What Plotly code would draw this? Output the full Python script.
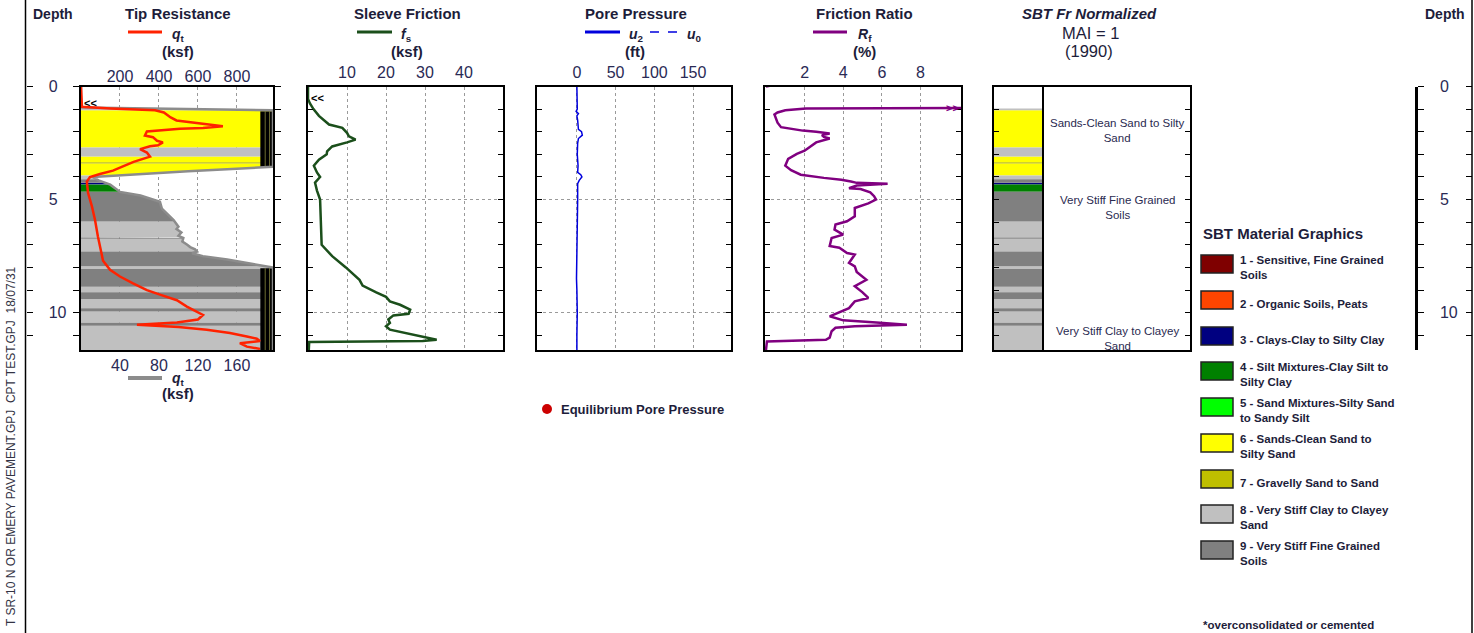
import numpy as np
import plotly.graph_objects as go

W, H = 1474, 633
FONT = "Liberation Sans, Arial, Helvetica, sans-serif"
TXT = "#1d1d3a"
TICKC = "#2a2a55"

DEPTH_TICKS = [0, 5, 10]
DMAX = 11.65

# Tip resistance qt (top scale, ksf)
QT_DEPTH = [0, 0.9, 0.97, 1.05, 1.15, 1.37, 1.5, 1.65, 1.76, 1.83, 1.87, 1.99, 2.17, 2.24, 2.4, 2.47,
            2.6, 2.64, 2.77, 2.92, 3.1, 3.2, 3.33, 3.53, 3.72, 3.87, 4.0, 4.2, 4.7, 5.3, 5.9, 6.64,
            7.37, 7.7, 8.1, 8.4, 8.7, 9.0, 9.2, 9.45, 9.73, 9.95, 10.1, 10.3, 10.43, 10.53, 10.57,
            10.63, 10.75, 10.9, 11.05, 11.15, 11.25, 11.35, 11.5, 11.6]
QT = [0, 5, 150, 380, 425, 460, 490, 645, 728, 626, 508, 338, 328, 369, 390, 420,
      395, 354, 303, 338, 354, 318, 270, 215, 164, 97, 46, 30, 36, 56, 72, 87,
      107, 113, 149, 200, 267, 338, 405, 492, 543, 595, 626, 600, 492, 287, 390,
      500, 645, 764, 851, 902, 918, 815, 851, 918]

# Tip resistance qt (bottom, expanded scale, ksf) - drives the SBT fill
QTG_DEPTH = [0, 0.93, 1.05, 3.55, 3.75, 3.9, 4.0, 4.15, 4.34, 4.5, 4.66, 4.82, 4.96, 5.1, 5.4,
             5.6, 5.9, 6.2, 6.3, 6.45, 6.6, 6.7, 6.85, 7.0, 7.1, 7.2, 7.3, 7.37, 7.5, 7.65, 7.85,
             8.0, 11.65]
QTG = [0, 0, 200, 200, 110, 45, 12, 18, 30, 35, 40, 61, 71, 81, 83,
       88, 95, 100, 98, 103, 100, 105, 104, 109, 112, 117, 119, 114, 125, 150, 177,
       200, 200]

# Sleeve friction fs (ksf)
FS_DEPTH = [0, 0.55, 0.75, 1.0, 1.3, 1.68, 1.83, 2.05, 2.2, 2.35, 2.47, 2.65, 2.87, 3.0, 3.24,
            3.5, 3.8, 4.0, 4.25, 4.6, 5.0, 5.5, 5.9, 6.5, 6.8, 7.0, 7.5, 8.0, 8.55, 8.8, 9.1,
            9.3, 9.5, 9.65, 9.87, 10.05, 10.12, 10.3, 10.45, 10.6, 10.75, 10.9, 11.05, 11.2,
            11.25, 11.3, 11.65]
FS = [0, 0, 0.5, 1.4, 2.8, 5.4, 8.8, 10.0, 10.5, 12.2, 10.0, 6.2, 4.9, 4.8, 2.8,
      1.5, 2.3, 3.1, 1.8, 2.3, 3.1, 3.2, 3.3, 3.3, 3.3, 3.5, 6.2, 9.7, 13.2, 14.0, 17.5,
      20.0, 21.0, 23.6, 26.2, 25.8, 21.9, 20.6, 21.0, 20.0, 21.0, 25.0, 29.4, 33.0,
      29.4, 0.3, 0.2]

# Pore pressure u2 (ft)
U2_DEPTH = [0, 1.0, 1.1, 1.2, 1.3, 1.5, 1.9, 2.0, 2.15, 2.3, 2.5, 3.0, 3.5, 3.8, 3.9, 4.0,
            4.15, 4.3, 5.0, 6.0, 7.0, 8.0, 8.5, 9.0, 10.0, 11.0, 11.65]
U2 = [0, 0.5, -1, 2, 0, 1, 2, 6, 7, 2, 1, 0.5, 1.5, 1, 5, 6.5,
      3, 1, 1, 0.5, 0, 0.3, -0.5, 0, 0.5, 0, 0]

# Friction ratio Rf (%)
RF_DEPTH = [0, -2.0, 0.95, 0.97, 1.05, 1.15, 1.24, 1.6, 1.8, 1.95, 2.0, 2.08, 2.15, 2.23, 2.3,
            2.47, 2.84, 2.98, 3.2, 3.5, 3.7, 3.9, 4.04, 4.12, 4.2, 4.26, 4.3, 4.38, 4.5, 4.53,
            4.68, 4.85, 5.0, 5.17, 5.37, 5.74, 5.96, 6.1, 6.33, 6.55, 6.7, 7.05, 7.13, 7.36,
            7.43, 7.8, 7.95, 8.2, 8.55, 8.83, 9.1, 9.35, 9.5, 9.8, 10.16, 10.34, 10.45, 10.53,
            10.6, 10.67, 10.82, 11.1, 11.2, 11.27, 11.65]
RF = [0, 12, 12, 2.07, 1.0, 0.6, 0.44, 0.6, 0.78, 1.9, 2.6, 3.3, 2.9, 3.0, 3.3,
      2.6, 2.0, 1.6, 1.15, 1.0, 1.3, 1.8, 3.0, 3.9, 4.4, 4.7, 6.3, 4.7, 4.3, 4.9,
      5.4, 5.6, 5.7, 5.3, 4.6, 4.6, 4.2, 3.6, 3.55, 4.0, 3.4, 3.3, 3.8, 4.2,
      4.6, 4.3, 4.6, 4.7, 5.2, 4.6, 5.0, 5.3, 4.6, 4.3, 3.3, 4.0, 5.9, 7.3,
      4.6, 3.6, 3.4, 3.3, 3.1, 0.05, 0]

# SBT layers
BAND_TOP = [0.97, 1.05, 2.70, 3.10, 3.35, 3.40, 3.94, 4.10, 4.25, 4.33, 4.65, 5.97, 6.68, 6.73,
            7.30, 7.95, 8.07, 8.85, 9.10, 9.40, 9.80, 9.95, 10.45, 10.58]
BAND_ZONE = [8, 6, 8, 6, 7, 6, 8, 9, 3, 4, 9, 8, 9, 8, 9, 8, 9, 8, 9, 8, 9, 8, 9, 8]

ZONE_COLORS = {1: "#7f0000", 2: "#ff4500", 3: "#000080", 4: "#008000", 5: "#00ff00",
               6: "#ffff00", 7: "#bfbf00", 8: "#c0c0c0", 9: "#808080"}
ZONE_NAMES = ["1 - Sensitive, Fine Grained<br>Soils", "2 - Organic Soils, Peats",
              "3 - Clays-Clay to Silty Clay", "4 - Silt Mixtures-Clay Silt to<br>Silty Clay",
              "5 - Sand Mixtures-Silty Sand<br>to Sandy Silt", "6 - Sands-Clean Sand to<br>Silty Sand",
              "7 - Gravelly Sand to Sand", "8 - Very Stiff Clay to Clayey<br>Sand",
              "9 - Very Stiff Fine Grained<br>Soils"]
SBT_LABELS = ["Sands-Clean Sand to Silty<br>Sand", "Very Stiff Fine Grained<br>Soils",
              "Very Stiff Clay to Clayey<br>Sand"]
SBT_LABEL_DEPTH = [1.95, 5.35, 11.15]

QT_TICKS = [200, 400, 600, 800]
QTG_TICKS = [40, 80, 120, 160]
FS_TICKS = [10, 20, 30, 40]
U_TICKS = [0, 50, 100, 150]
RF_TICKS = [2, 4, 6, 8]

QT_RANGE = [0, 985]
QTG_RANGE = [0, 197]
FS_RANGE = [0, 50]
U_RANGE = [-51.5, 199]
RF_RANGE = [-0.05, 10.1]


def px(x):
    return x / W


def py(y):
    return 1 - y / H


YD = [py(350), py(86.5)]
BAND_BOT = BAND_TOP[1:] + [DMAX]

fig = go.Figure()

# ---------------- Panel 1 fills (base axis x = expanded qt scale) ----------------
cap = QTG_RANGE[1]
for z in sorted(set(BAND_ZONE)):
    xs, ys = [], []
    for t, b, zz in zip(BAND_TOP, BAND_BOT, BAND_ZONE):
        if zz != z:
            continue
        ds = [t] + [d for d in QTG_DEPTH if t < d < b] + [b]
        vs = np.minimum(np.interp(ds, QTG_DEPTH, QTG), cap).tolist()
        xs += [0] + vs + [0, 0, None]
        ys += [t] + ds + [b, t, None]
    fig.add_trace(go.Scatter(x=xs, y=ys, xaxis="x", yaxis="y", mode="lines", fill="toself",
                             fillcolor=ZONE_COLORS[z], line=dict(width=0), hoverinfo="skip"))

# overflow marks where qt exceeds the expanded scale
grid = np.linspace(0, DMAX, 2400)
gv = np.interp(grid, QTG_DEPTH, QTG)
over = gv >= cap
runs = []
i = 0
while i < len(grid):
    if over[i]:
        j = i
        while j + 1 < len(grid) and over[j + 1]:
            j += 1
        runs.append((grid[i] + 0.05, grid[j]))
        i = j + 1
    else:
        i += 1
ox, oy = [], []
for a, b in runs:
    ox += [184, cap, cap, 184, 184, None]
    oy += [a, a, b, b, a, None]
fig.add_trace(go.Scatter(x=ox, y=oy, xaxis="x", yaxis="y", mode="lines", fill="toself",
                         fillcolor="black", line=dict(width=0, color="black"), hoverinfo="skip"))
lx, ly = [], []
for a, b in runs:
    for xv in (189, 193.5):
        lx += [xv, xv, None]
        ly += [a, b, None]
fig.add_trace(go.Scatter(x=lx, y=ly, xaxis="x", yaxis="y", mode="lines",
                         line=dict(width=0.8, color="#8a8a40"), hoverinfo="skip"))

fig.add_trace(go.Scatter(x=np.minimum(QTG, cap), y=QTG_DEPTH, xaxis="x", yaxis="y", mode="lines",
                         line=dict(color="#8c8c8c", width=2.5)))
# qt on the overlaid top axis -> drawn above the fills
fig.add_trace(go.Scatter(x=QT, y=QT_DEPTH, xaxis="x2", yaxis="y", mode="lines",
                         line=dict(color="#ff2200", width=2.5)))

# ---------------- other panels ----------------
fig.add_trace(go.Scatter(x=FS, y=FS_DEPTH, xaxis="x3", yaxis="y2", mode="lines",
                         line=dict(color="#1b4f1b", width=2.5)))
fig.add_trace(go.Scatter(x=U2, y=U2_DEPTH, xaxis="x4", yaxis="y3", mode="lines",
                         line=dict(color="#0000dd", width=1.5)))
fig.add_trace(go.Scatter(x=RF, y=RF_DEPTH, xaxis="x5", yaxis="y4", mode="lines",
                         line=dict(color="#800080", width=2.5)))

# SBT column
for z in sorted(set(BAND_ZONE)):
    xs, ys = [], []
    for t, b, zz in zip(BAND_TOP, BAND_BOT, BAND_ZONE):
        if zz == z:
            xs += [0, 0.25, 0.25, 0, 0, None]
            ys += [t, t, b, b, t, None]
    fig.add_trace(go.Scatter(x=xs, y=ys, xaxis="x6", yaxis="y5", mode="lines", fill="toself",
                             fillcolor=ZONE_COLORS[z], line=dict(width=0), hoverinfo="skip"))

# dummy traces for the free depth axes
for ya in ("y6", "y7", "y8"):
    fig.add_trace(go.Scatter(x=[None], y=[None], xaxis="x", yaxis=ya))


# ---------------- axes ----------------
def yax(anchor, grid=True):
    return dict(domain=YD, range=[DMAX, 0], anchor=anchor, showline=True, linecolor="black",
                linewidth=2, mirror="ticks", ticks="inside", ticklen=5, tickcolor="black",
                tickvals=DEPTH_TICKS, showticklabels=False, showgrid=grid, gridcolor="#9a9a9a",
                griddash="dot", gridwidth=1, zeroline=False,
                minor=dict(dtick=1, ticks="inside", ticklen=5, tickcolor="black", showgrid=False))


def xax(x0, x1, rng, ticks, anchor, grid=True, side="top"):
    return dict(domain=[px(x0), px(x1)], range=rng, anchor=anchor, side=side, showline=True,
                linecolor="black", linewidth=2, mirror=True, ticks="", tickvals=ticks,
                showticklabels=len(ticks) > 0,
                tickfont=dict(size=16, color=TICKC, family=FONT), showgrid=grid,
                gridcolor="#9a9a9a", griddash="dot", gridwidth=1, zeroline=False)


y1 = yax("x")
y1.update(ticks="outside", ticklen=6, minor=dict(dtick=1, ticks="outside", ticklen=6,
                                                  tickcolor="black", showgrid=False))

x_top = dict(domain=[px(81), px(273)], range=QT_RANGE, anchor="y", overlaying="x", side="top",
             showline=False, ticks="", tickvals=QT_TICKS,
             tickfont=dict(size=16, color=TICKC, family=FONT), showgrid=False, zeroline=False)

depth_common = dict(overlaying="y", anchor="free", range=[DMAX, 0], tickvals=DEPTH_TICKS,
                    ticktext=[str(v) for v in DEPTH_TICKS], showgrid=False, zeroline=False,
                    tickcolor="black", tickfont=dict(size=16, color=TICKC, family=FONT))

fig.update_layout(
    width=W, height=H, margin=dict(l=0, r=0, t=0, b=0, autoexpand=False), paper_bgcolor="white",
    plot_bgcolor="white", showlegend=False, font=dict(family=FONT, color=TXT),
    xaxis=xax(81, 273, QTG_RANGE, QTG_TICKS, "y", side="bottom"),
    xaxis2=x_top,
    xaxis3=xax(308, 503, FS_RANGE, FS_TICKS, "y2"),
    xaxis4=xax(537, 731, U_RANGE, U_TICKS, "y3"),
    xaxis5=xax(765, 961, RF_RANGE, RF_TICKS, "y4"),
    xaxis6=xax(994, 1190, [0, 1], [], "y5", grid=False),
    yaxis=y1,
    yaxis2=yax("x3"),
    yaxis3=yax("x4"),
    yaxis4=yax("x5"),
    yaxis5=yax("x6", grid=False),
    yaxis6=dict(**depth_common, side="right", position=px(25.5), showline=False,
                ticks="outside", ticklen=6, ticklabelstandoff=13,
                minor=dict(dtick=1, ticks="outside", ticklen=6, tickcolor="black")),
    yaxis7=dict(**depth_common, side="right", position=px(1416), showline=True, linecolor="black",
                linewidth=2.5, ticks="outside", ticklen=6, ticklabelstandoff=13,
                minor=dict(dtick=1, ticks="outside", ticklen=6, tickcolor="black")),
    yaxis8=dict(**depth_common, side="left", position=px(1472), showline=False,
                ticks="outside", ticklen=6, showticklabels=False,
                minor=dict(dtick=1, ticks="outside", ticklen=6, tickcolor="black")),
)

shapes = []
ann = []


def text(x, y, s, size=15, xa="center", ya="middle", color=TXT, angle=0, align="center"):
    ann.append(dict(x=px(x), y=py(y), xref="paper", yref="paper", text=s, showarrow=False,
                    xanchor=xa, yanchor=ya, textangle=angle, align=align,
                    font=dict(size=size, color=color, family=FONT)))


def hline(x0, x1, y, color, width, dash="solid"):
    shapes.append(dict(type="line", xref="paper", yref="paper", x0=px(x0), x1=px(x1),
                       y0=py(y), y1=py(y), line=dict(color=color, width=width, dash=dash)))


# page frame lines
shapes.append(dict(type="line", xref="paper", yref="paper", x0=px(25.5), x1=px(25.5), y0=0, y1=1,
                   line=dict(color="black", width=1.5)))
shapes.append(dict(type="line", xref="paper", yref="paper", x0=px(1472), x1=px(1472), y0=0, y1=1,
                   line=dict(color="black", width=1.5)))
# SBT divider
shapes.append(dict(type="line", xref="x6", yref="y5 domain", x0=0.25, x1=0.25, y0=0, y1=1,
                   line=dict(color="black", width=2)))

# headers
TY = 13.5   # title row
SY = 24     # top of the symbol row
text(53, TY, "<b>Depth</b>", 14)
text(1445, TY, "<b>Depth</b>", 14)

text(178, TY, "<b>Tip Resistance</b>")
hline(128, 162, 32, "#ff2200", 3)
text(170, SY, "<b><i>q</i><sub>t</sub></b>", 14, xa="left", ya="top")
text(178, 51, "<b>(ksf)</b>")
hline(128, 162, 378, "#8c8c8c", 4)
text(170, 368, "<b><i>q</i><sub>t</sub></b>", 14, xa="left", ya="top")
text(178, 393, "<b>(ksf)</b>")

text(407, TY, "<b>Sleeve Friction</b>")
hline(357, 392, 32, "#1b4f1b", 3)
text(399, SY, "<b><i>f</i><sub>s</sub></b>", 14, xa="left", ya="top")
text(407, 51, "<b>(ksf)</b>")

text(636, TY, "<b>Pore Pressure</b>")
hline(585, 620, 32, "#0000dd", 3)
text(627, SY, "<b><i>u</i><sub>2</sub></b>", 14, xa="left", ya="top")
hline(650, 683, 32, "#0000dd", 1.5, "dash")
text(685, SY, "<b><i>u</i><sub>0</sub></b>", 14, xa="left", ya="top")
text(635, 51, "<b>(ft)</b>")

text(864, TY, "<b>Friction Ratio</b>")
hline(813, 847, 32, "#800080", 3)
text(856, SY, "<b><i>R</i><sub>f</sub></b>", 14, xa="left", ya="top")
text(864, 51, "<b>(%)</b>")

text(1089, TY, "<b><i>SBT Fr Normalized</i></b>")
text(1090, 33, "MAI = 1", 16.5)
text(1089, 51, "(1990)", 16.5)

# overflow arrows
text(82, 103, "<b>&lt;&lt;</b>", 11, xa="left", color="black")
text(309, 98, "<b>&lt;&lt;</b>", 11, xa="left", color="black")
text(961, 108, "<b>&gt;&gt;</b>", 11, xa="right", color="#800080")

# Equilibrium pore pressure
shapes.append(dict(type="circle", xref="paper", yref="paper", x0=px(542), x1=px(552),
                   y0=py(414), y1=py(404), fillcolor="#cc0000", line=dict(width=0)))
text(559, 409, "<b>Equilibrium Pore Pressure</b>", 13, xa="left")

# SBT column labels
for lab, d in zip(SBT_LABELS, SBT_LABEL_DEPTH):
    ann.append(dict(x=0.628, y=d, xref="x6", yref="y5", text=lab, showarrow=False,
                    font=dict(size=11.5, color="#2a2a50", family=FONT)))

# legend
text(1201, 233, "<b>SBT Material Graphics</b>", 15, xa="left")
SW_TOP = [255, 291, 327, 362, 398, 434, 470, 505, 541]
for k, (top, name) in enumerate(zip(SW_TOP, ZONE_NAMES)):
    shapes.append(dict(type="rect", xref="paper", yref="paper", x0=px(1201), x1=px(1233),
                       y0=py(top + 18), y1=py(top), fillcolor=ZONE_COLORS[k + 1],
                       line=dict(color="#222222", width=1.5)))
    text(1238, top + 12.5, "<b>" + name + "</b>", 11.5, xa="left", align="left")
text(1201, 625, "<b>*overconsolidated or cemented</b>", 11.5, xa="left")

# file footer (rotated)
text(11, 264, "T SR-10 N OR EMERY PAVEMENT.GPJ&nbsp;&nbsp;CPT TEST.GPJ&nbsp;&nbsp;18/07/31", 12,
     ya="top", angle=-90, color="#333344")

fig.update_layout(shapes=shapes, annotations=ann)
fig.write_html(
    "out.html",
    config={"displayModeBar": False},
    post_script=("var d=document.getElementById('{plot_id}');"
                 "d.style.position='absolute';d.style.left='0px';d.style.top='0px';"
                 "document.body.style.margin='0px';"),
)
